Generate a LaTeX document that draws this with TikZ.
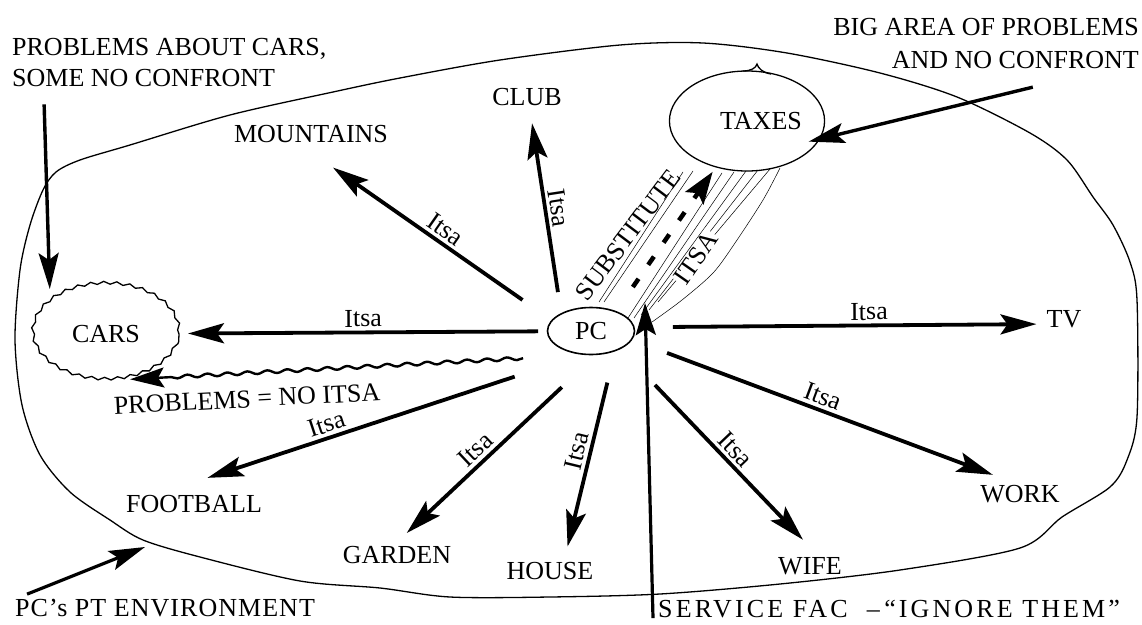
\documentclass[tikz,border=0pt]{standalone}
\usepackage{fontspec}
\setmainfont{Liberation Serif}
\usetikzlibrary{shapes.geometric}
\usetikzlibrary{arrows.meta}
\usetikzlibrary{decorations.pathmorphing}
\usetikzlibrary{calc}

\begin{document}
\begin{tikzpicture}[->,>={Stealth[length=36pt,width=20pt,inset=7pt]},
	x=1pt,y=-1pt,font=\fontsize{26}{31}\selectfont,
	thing/.style={inner sep=0pt},
	itsa/.style={above,sloped},
	link/.style={line width=3.8pt},
	outline/.style={-,line width=1.3pt},
	hatch/.style={-,line width=0.5pt},
	blob/.style={-,ellipse,draw,line width=1.3pt,inner sep=0pt,outer sep=0pt}]

	\useasboundingbox (0,0) rectangle (1142,624);

	% the PT environment
	\draw[outline] plot[smooth cycle] coordinates {(15,340) (20,270) (30,225) (43,190)
		(56,172) (80,160) (130,145) (230,115) (333,92) (400,78) (500,60) (620,45)
		(703,43) (787,53) (880,73) (957,97) (1030,133) (1067,160) (1093,197)
		(1113,225) (1130,262) (1137,300) (1137,417) (1127,460) (1110,487)
		(1062,517) (1020,548) (900,570) (780,584) (660,594) (550,597) (450,597)
		(380,588) (300,581) (200,557) (143,540) (110,520) (70,492) (40,455) (22,405)};

	% hatching between PC and TAXES
	\foreach \xa/\ya/\xb/\yb in {599/302/683/172, 604/302/693/171, 628/318/722/173,
		634/318/734/172, 641/315/746/171, 649/310/758/170, 658/302/770/169}
		\draw[hatch] (\xa,\ya) -- (\xb,\yb);
	\draw[hatch] plot[smooth] coordinates {(652,322) (682,300) (713,273) (735,243) (763,200) (780,168)};

	\node[blob,line width=1.6pt,minimum width=87pt,minimum height=47pt] (pc) at (591,331) {PC};
	\node[blob,minimum width=142pt,minimum height=100pt] (taxes) at (747,121) {\hspace{28pt}TAXES};
	\node[blob,decorate,decoration={snake,amplitude=1.4pt,segment length=13pt},
		minimum width=146pt,minimum height=96pt] (cars) at (106,334) {CARS\hspace{26pt}};
	\draw[outline] ($(taxes.north)+(-4,0)$) .. controls +(8,0) and +(-1,4) .. ($(taxes.north)+(10,-7)$)
		.. controls +(1,4) and +(-8,-1) .. ($(taxes.north)+(24,3)$);

	\node[thing] (mountains) at (311,134) {MOUNTAINS};
	\node[thing] (club) at (527,97) {CLUB};
	\node[thing] (tv) at (1064,319) {TV};
	\node[thing] (work) at (1020,494) {WORK};
	\node[thing] (wife) at (810,566) {WIFE};
	\node[thing] (house) at (550,571) {HOUSE};
	\node[thing] (garden) at (397,555) {GARDEN};
	\node[thing] (football) at (194,504) {FOOTBALL};
	\node[thing,rotate=3] (noitsa) at (247,399) {PROBLEMS = NO ITSA};
	\node[thing,anchor=west,align=left] (probcars) at (12,63) {PROBLEMS ABOUT CARS,\\SOME NO CONFRONT};
	\node[thing,anchor=east,align=right,font=\fontsize{26}{33}\selectfont] (bigarea) at (1139,44)
		{BIG AREA OF PROBLEMS\\AND NO CONFRONT};
	\node[thing,anchor=west,font=\fontsize{26}{31}\selectfont\addfontfeature{LetterSpace=4}] (ptenv)
		at (15,608) {PC’s PT ENVIRONMENT};
	\node[thing,anchor=west,font=\fontsize{26}{31}\selectfont\addfontfeature{LetterSpace=12}] (service)
		at (658,609) {SERVICE FAC \ –\,“IGNORE THEM”};
	\node[thing,rotate=53] (subst) at (628,235) {SUBSTITUTE};
	\node[thing,rotate=55,fill=white,inner sep=1pt] (itsaband) at (696,258) {ITSA};

	\coordinate (bandfoot) at (645,303);
	\coordinate (envedge) at (145,547);
	\coordinate (wavyend) at ($(cars.-62)!38pt!(pc.south)$);

	\path[link]
	(pc.165) edge[shorten <=36pt,shorten >=43pt] node[itsa,pos=.45] {Itsa} (mountains.214)
	(pc.150) edge[shorten <=22pt,shorten >=17.5pt] node[itsa,pos=.5] {Itsa} (club.285)
	(pc) edge[shorten <=9.5pt,shorten >=9pt] node[itsa,pos=.5] {Itsa} (cars)
	(pc.251) edge[shorten <=72pt,shorten >=55pt] node[itsa,pos=.59] {Itsa} (football.167)
	(pc.-76) edge[shorten <=48pt,shorten >=19pt] node[itsa,pos=.55] {Itsa} (garden.115)
	(pc.-39) edge[shorten <=33pt,shorten >=16pt] node[itsa,pos=.49] {Itsa} (house.33)
	(pc.-31) edge[shorten <=50.5pt,shorten >=24pt] node[itsa,pos=.53] {Itsa} (wife.43)
	(pc.-12) edge[shorten <=38pt,shorten >=29pt] node[itsa,pos=.48] {Itsa} (work.north)
	(pc.5) edge[shorten <=39pt,shorten >=10pt] node[itsa,pos=.57] {Itsa} (tv.196);

	% substitute itsa
	\path (pc.38) edge[line width=4.5pt,dash pattern=on 10pt off 17pt,shorten <=30pt,shorten >=6pt,
		-{Stealth[length=32pt,width=22pt,inset=6pt]}] (taxes.236);

	% problems = no itsa
	\draw[-,line width=2.4pt,decorate,decoration={snake,amplitude=1.6pt,segment length=20pt,
		pre=moveto,pre length=68pt}] (pc.south) -- (wavyend);
	\draw[line width=2.4pt,-{Stealth[length=34pt,width=20pt,inset=6pt]}] (wavyend) -- (cars.-62);

	% comments pointing in
	\path[link,line width=3.4pt]
	(probcars.191) edge[shorten <=17pt,shorten >=14pt] (cars.151)
	(bigarea.-12) edge[shorten <=75pt,shorten >=-11pt] (taxes.-14);
	\draw[link,line width=3.2pt,-{Stealth[length=32pt,width=20pt,inset=6pt]}]
		([xshift=-5pt]service.south west) -- (bandfoot);
	\draw[link,line width=3.2pt,shorten <=13pt] (ptenv.north west) -- (envedge);
\end{tikzpicture}
\end{document}
